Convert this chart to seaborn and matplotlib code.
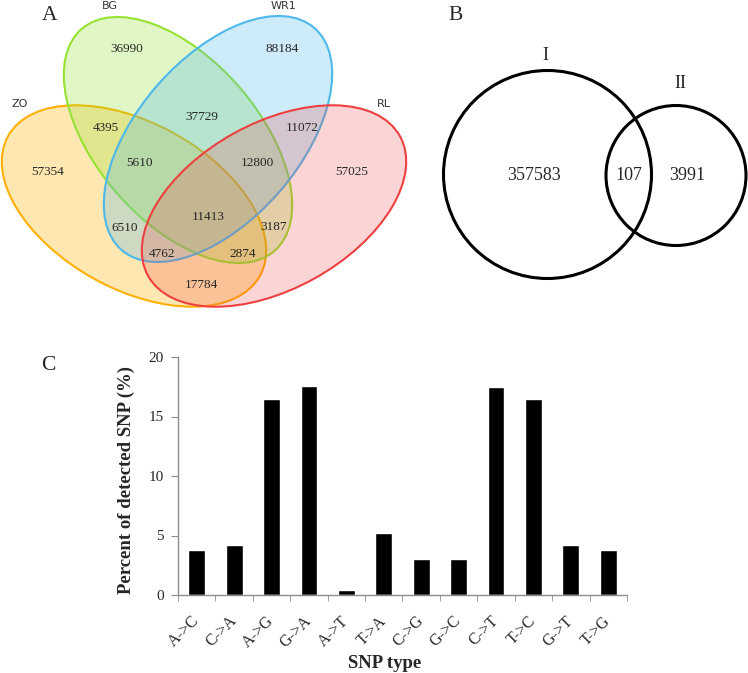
import numpy as np
import pandas as pd
import matplotlib
matplotlib.use('Agg')
import matplotlib.pyplot as plt
from matplotlib.patches import Ellipse, Circle
import seaborn as sns

# Panel A: four-set Venn counts
set_names = ['ZO', 'BG', 'WR1', 'RL']
region_counts = [36990, 88184, 37729, 4395, 11072, 5610, 12800, 57354, 57025,
                 11413, 6510, 3187, 4762, 2874, 17784]

# Panel B: two-set Venn counts
set_b_names = ['I', 'II']
set_b_counts = [357583, 107, 3991]

# Panel C: SNP type distribution
snp_types = ['A->C', 'C->A', 'A->G', 'G->A', 'A->T', 'T->A',
             'C->G', 'G->C', 'C->T', 'T->C', 'G->T', 'T->G']
snp_percent = [3.8, 4.2, 16.5, 17.6, 0.45, 5.2, 3.0, 3.0, 17.5, 16.5, 4.2, 3.8]

sns.set_style('white')
plt.rcParams['font.family'] = ['Liberation Serif', 'DejaVu Serif']

fig = plt.figure(figsize=(7.48, 6.73), dpi=100)

# canvas axes in pixel units for the Venn panels
ax = fig.add_axes([0, 0, 1, 1])
ax.set_xlim(0, 748)
ax.set_ylim(673, 0)
ax.axis('off')

# ellipses (centre, semi-axes, angle) for ZO, BG, WR1, RL
ell_geom = [((134, 206), 144, 83, 29),
            ((178, 140), 147, 81, 49),
            ((218, 139), 147, 81, -49),
            ((274, 206), 144, 83, -29)]
ell_colors = ['#FFB000', '#96E232', '#4DB8EA', '#EE4040']
ell_alpha = [0.3, 0.28, 0.28, 0.22]
for (c, a, b, ang), col, al in zip(ell_geom, ell_colors, ell_alpha):
    ax.add_patch(Ellipse(c, 2 * a, 2 * b, angle=ang, facecolor=col, alpha=al, edgecolor='none'))
    ax.add_patch(Ellipse(c, 2 * a, 2 * b, angle=ang, facecolor='none', edgecolor=col, lw=1.5))

count_pos = [(127, 49), (282, 49), (202, 117), (106, 128), (302, 128), (140, 163),
             (257, 163), (48, 172), (352, 172), (208, 217), (125, 228), (274, 227),
             (162, 254), (243, 254), (201, 285)]
for (x, y), n in zip(count_pos, region_counts):
    ax.text(x, y, str(n), ha='center', va='center', fontsize=9.5)

name_pos = [(20, 104), (110, 6), (284, 6), (384, 104)]
for (x, y), n in zip(name_pos, set_names):
    ax.text(x, y, n, ha='center', va='center', fontsize=8, color='#333333',
            family=['DejaVu Sans'])

ax.text(50, 16, 'A', ha='center', va='center', fontsize=15.5)

# Panel B
ax.add_patch(Circle((547.5, 174.5), 104, facecolor='none', edgecolor='black', lw=2.2))
ax.add_patch(Circle((676, 175.5), 70, facecolor='none', edgecolor='black', lw=2.2))
ax.text(545, 56, set_b_names[0], ha='center', va='center', fontsize=13)
ax.text(680, 83, set_b_names[1], ha='center', va='center', fontsize=13)
for x, n in zip([534, 629, 687], set_b_counts):
    ax.text(x, 176, str(n), ha='center', va='center', fontsize=13)
ax.text(456, 16, 'B', ha='center', va='center', fontsize=15.5)

ax.text(48, 365, 'C', ha='center', va='center', fontsize=15.5)

# Panel C bar chart
df = pd.DataFrame({'type': snp_types, 'percent': snp_percent})
axc = fig.add_axes([178 / 748, 1 - 595 / 673, 449 / 748, 238 / 673])
sns.barplot(data=df, x='type', y='percent', color='black', width=0.45,
            saturation=1, ax=axc)
axc.set_xlim(-0.5, len(snp_types) - 0.5)
axc.set_ylim(0, 20)
axc.set_yticks([0, 5, 10, 15, 20])
axc.set_xticks(np.arange(len(snp_types) + 1) - 0.5, minor=True)
sns.despine(ax=axc)
for s in ['left', 'bottom']:
    axc.spines[s].set_color('#8c8c8c')
    axc.spines[s].set_linewidth(1.0)
axc.tick_params(axis='y', which='major', length=5, color='#8c8c8c', pad=5,
                labelsize=11, left=True)
axc.tick_params(axis='x', which='major', length=0, pad=17, labelsize=11.5)
axc.tick_params(axis='x', which='minor', length=4, color='#8c8c8c', bottom=True)
plt.setp(axc.get_xticklabels(), rotation=45, ha='right', va='center',
         rotation_mode='anchor')
axc.set_ylabel('Percent of detected SNP (%)', fontsize=13.5, fontweight='bold')
axc.yaxis.set_label_coords(-0.095, 0.485)
axc.set_xlabel('SNP type', fontsize=13.5, fontweight='bold')
axc.xaxis.set_label_coords(0.46, -0.25)

fig.savefig('out.png', dpi=100)
